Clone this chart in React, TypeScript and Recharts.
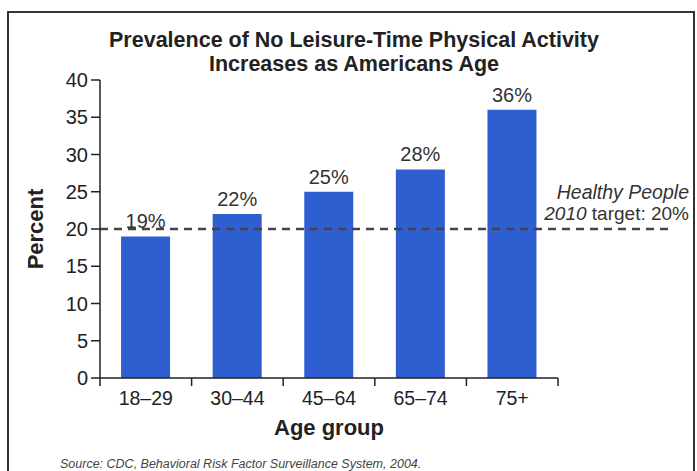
import React from 'react';
import { BarChart, Bar, XAxis, YAxis, ReferenceLine, LabelList, Label } from 'recharts';

const ageGroups = ['18–29', '30–44', '45–64', '65–74', '75+'];
const inactivePercent = [19, 22, 25, 28, 36];
const yTicks = [0, 5, 10, 15, 20, 25, 30, 35, 40];
const targetPercent = 20;

const data = ageGroups.map((group, i) => ({ group, value: inactivePercent[i] }));

const W = 697;
const H = 471;
const PLOT_LEFT = 100;
const PLOT_RIGHT = 558;
const PLOT_TOP = 80;
const PLOT_BOTTOM = 378;
const BAND = (PLOT_RIGHT - PLOT_LEFT) / ageGroups.length;

const font = '"Liberation Sans", Arial, Helvetica, sans-serif';
const ink = '#222';
const barColor = '#2e5ecf';

const AgeTick = (props: any) => {
  const { x, y, payload, index } = props;
  return (
    <g>
      <line x1={x - BAND / 2} x2={x - BAND / 2} y1={y} y2={y + 8} stroke={ink} strokeWidth={1.5} />
      {index === ageGroups.length - 1 && (
        <line x1={x + BAND / 2} x2={x + BAND / 2} y1={y} y2={y + 8} stroke={ink} strokeWidth={1.5} />
      )}
      <text x={x} y={y + 27} textAnchor="middle" fontSize={19.5} fill={ink} fontFamily={font}>
        {payload.value}
      </text>
    </g>
  );
};

// dashed target line runs past the last bar, with its note on the right
const TargetLine = (props: any) => {
  const { x1, y1, x2 } = props;
  return (
    <g>
      <line x1={x1} y1={y1} x2={x2 + 110} y2={y1} stroke="#444" strokeWidth={2.5} strokeDasharray="8 6" />
      <text x={x2 + 131} y={y1 - 30} textAnchor="end" fontSize={19.5} fill="#333" fontFamily={font} fontStyle="italic">
        Healthy People
      </text>
      <text x={x2 + 131} y={y1 - 9} textAnchor="end" fontSize={19} fill="#333" fontFamily={font}>
        <tspan fontStyle="italic">2010</tspan> target: 20%
      </text>
    </g>
  );
};

export default function App() {
  return (
    <div style={{ position: 'absolute', left: 0, top: 0, width: W, height: H, background: '#fff', overflow: 'hidden', fontFamily: font }}>
      <div
        style={{
          position: 'absolute',
          left: 7,
          top: 11,
          width: 688,
          height: 480,
          border: '2px solid #333',
          boxSizing: 'border-box',
        }}
      />
      <div
        style={{
          position: 'absolute',
          left: 0,
          top: 28,
          width: 708,
          textAlign: 'center',
          fontWeight: 'bold',
          fontSize: 21.5,
          lineHeight: '24px',
          color: ink,
        }}
      >
        Prevalence of No Leisure-Time Physical Activity
        <br />
        Increases as Americans Age
      </div>
      <div
        style={{
          position: 'absolute',
          left: 60,
          top: 457,
          fontSize: 12.5,
          fontStyle: 'italic',
          color: '#444',
          whiteSpace: 'nowrap',
        }}
      >
        Source: CDC, Behavioral Risk Factor Surveillance System, 2004.
      </div>
      <div style={{ position: 'absolute', left: 0, top: 0 }}>
        <BarChart
          width={W}
          height={H}
          data={data}
          margin={{ top: PLOT_TOP, right: W - PLOT_RIGHT, left: 0, bottom: 33 }}
          barCategoryGap="23%"
        >
          <XAxis
            dataKey="group"
            height={H - PLOT_BOTTOM - 33}
            tickSize={0}
            tickMargin={0}
            tickLine={false}
            axisLine={{ stroke: ink, strokeWidth: 1.5 }}
            tick={<AgeTick />}
            interval={0}
          >
            <Label
              content={({ viewBox }: any) => (
                <text
                  x={viewBox.x + viewBox.width / 2}
                  y={viewBox.y + 57}
                  textAnchor="middle"
                  fontSize={22}
                  fontWeight="bold"
                  fill={ink}
                  fontFamily={font}
                >
                  Age group
                </text>
              )}
            />
          </XAxis>
          <YAxis
            width={PLOT_LEFT}
            domain={[0, 40]}
            ticks={yTicks}
            interval={0}
            tickSize={9}
            tickMargin={3}
            tickLine={{ stroke: ink, strokeWidth: 1.5 }}
            axisLine={{ stroke: ink, strokeWidth: 1.5 }}
            tick={{ fontSize: 20, fill: ink, fontFamily: font }}
          >
            <Label
              content={({ viewBox }: any) => {
                const cx = viewBox.x + 35;
                const cy = viewBox.y + viewBox.height / 2;
                return (
                  <text
                    x={cx}
                    y={cy}
                    transform={`rotate(-90, ${cx}, ${cy})`}
                    textAnchor="middle"
                    dominantBaseline="central"
                    fontSize={22}
                    fontWeight="bold"
                    fill={ink}
                    fontFamily={font}
                  >
                    Percent
                  </text>
                );
              }}
            />
          </YAxis>
          <Bar dataKey="value" fill={barColor} isAnimationActive={false}>
            <LabelList
              dataKey="value"
              position="top"
              offset={8}
              formatter={(v: any) => `${v}%`}
              style={{ fontSize: 20, fill: '#333', fontFamily: font }}
            />
          </Bar>
          <ReferenceLine y={targetPercent} shape={<TargetLine />} />
        </BarChart>
      </div>
    </div>
  );
}
